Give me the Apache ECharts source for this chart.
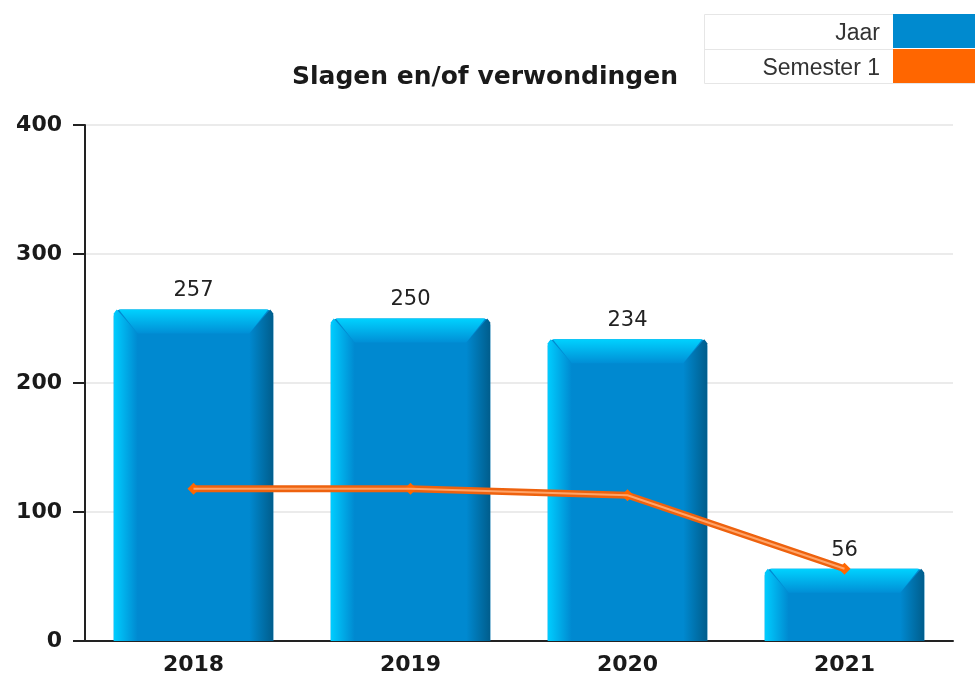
<!DOCTYPE html>
<html>
<head>
<meta charset="utf-8">
<script src="https://cdn.jsdelivr.net/npm/echarts@6/dist/echarts.min.js"></script>
<style>
  html, body { margin: 0; padding: 0; background: #fff; }
  #chart { width: 975px; height: 677px; }
</style>
</head>
<body>
<div id="chart"></div>
<script>
const years = ['2018', '2019', '2020', '2021'];
const jaar = [257, 250, 234, 56];
const semester1 = [118, 118, 113, 56];
const yTicks = [0, 100, 200, 300, 400];

const chart = echarts.init(document.getElementById('chart'));

// bevelled 3D-ish bars, like the old flash charts
function renderBar(params, api) {
  const idx = api.value(0);
  const val = api.value(1);
  const top = api.coord([idx, val]);
  const base = api.coord([idx, 0]);
  const band = api.size([1, 0])[0];
  const w = band * 0.735;
  const x0 = top[0] - w / 2, x1 = top[0] + w / 2;
  const yt = top[1], yb = base[1];
  const b = Math.min(24, (yb - yt) * 0.5);
  const hGrad = (c0, c1) => new echarts.graphic.LinearGradient(0, 0, 1, 0, [{ offset: 0, color: c0 }, { offset: 1, color: c1 }]);
  const vGrad = (c0, c1) => new echarts.graphic.LinearGradient(0, 0, 0, 1, [{ offset: 0, color: c0 }, { offset: 1, color: c1 }]);
  return {
    type: 'group',
    children: [
      { type: 'rect', shape: { x: x0, y: yt, width: w, height: yb - yt, r: [7, 7, 0, 0] }, style: { fill: '#0089d0' } },
      { type: 'polygon', shape: { points: [[x0 + 3, yt], [x0, yt + 4], [x0, yb], [x0 + b, yb], [x0 + b, yt + b]] }, style: { fill: hGrad('#00cdff', '#0089d0') } },
      { type: 'polygon', shape: { points: [[x1 - 3, yt], [x1, yt + 4], [x1, yb], [x1 - b, yb], [x1 - b, yt + b]] }, style: { fill: hGrad('#0089d0', '#005d8c') } },
      { type: 'polygon', shape: { points: [[x0 + 5, yt], [x1 - 5, yt], [x1 - b, yt + b], [x0 + b, yt + b]] }, style: { fill: vGrad('#00d2ff', '#008fd6') } },
      {
        type: 'text',
        style: {
          x: top[0], y: yt - 8, text: String(val),
          fill: '#222', font: '21px "DejaVu Sans"', align: 'center', verticalAlign: 'bottom'
        }
      }
    ]
  };
}

const option = {
  animation: false,
  title: {
    text: 'Slagen en/of verwondingen',
    left: 480, top: 60, textAlign: 'center',
    textStyle: { fontFamily: 'DejaVu Sans', fontWeight: 'bold', fontSize: 25, color: '#1a1a1a' }
  },
  legend: {
    orient: 'vertical', right: 0, top: 14, align: 'right',
    itemWidth: 82, itemHeight: 34, itemGap: 1, padding: 0,
    formatter: '{t|{name}}',
    textStyle: {
      rich: { t: { fontFamily: 'Liberation Sans', fontSize: 23, color: '#333', padding: [6, 8, 0, 0] } }
    },
    data: [{ name: 'Jaar', icon: 'rect' }, { name: 'Semester 1', icon: 'rect' }]
  },
  graphic: [
    { type: 'rect', shape: { x: 704.5, y: 14.5, width: 275, height: 69 }, style: { fill: null, stroke: '#e6e6e6', lineWidth: 1 }, z: -1 },
    { type: 'line', shape: { x1: 704, y1: 49.5, x2: 893, y2: 49.5 }, style: { stroke: '#e6e6e6', lineWidth: 1 } }
  ],
  grid: { left: 85, right: 22, top: 125, bottom: 36 },
  xAxis: {
    type: 'category', data: years,
    axisLine: { lineStyle: { color: '#222', width: 2 } },
    axisTick: { length: 8, lineStyle: { color: '#222', width: 2 } },
    axisLabel: { fontFamily: 'DejaVu Sans', fontWeight: 'bold', fontSize: 22, color: '#1a1a1a', margin: 13 }
  },
  yAxis: {
    type: 'value', min: yTicks[0], max: yTicks[yTicks.length - 1], interval: 100,
    axisLine: { show: true, lineStyle: { color: '#222', width: 2 } },
    axisTick: { show: true, length: 12, lineStyle: { color: '#222', width: 2 } },
    axisLabel: { fontFamily: 'DejaVu Sans', fontWeight: 'bold', fontSize: 22, color: '#1a1a1a', margin: 23 },
    splitLine: { lineStyle: { color: '#ebebeb', width: 2 } }
  },
  series: [
    {
      name: 'Jaar', type: 'custom', renderItem: renderBar,
      itemStyle: { color: '#008acf' },
      data: jaar.map((v, i) => [i, v]),
      z: 2
    },
    {
      name: 'Semester 1', type: 'line', data: semester1,
      symbol: 'diamond', symbolSize: 12,
      itemStyle: { color: '#ff6600' },
      lineStyle: { color: '#ee620e', width: 7 },
      z: 3
    },
    {
      name: 'highlight', type: 'line', data: semester1, silent: true,
      symbol: 'none', lineStyle: { color: '#ffa468', width: 2 },
      z: 4
    }
  ]
};

chart.setOption(option);
</script>
</body>
</html>
